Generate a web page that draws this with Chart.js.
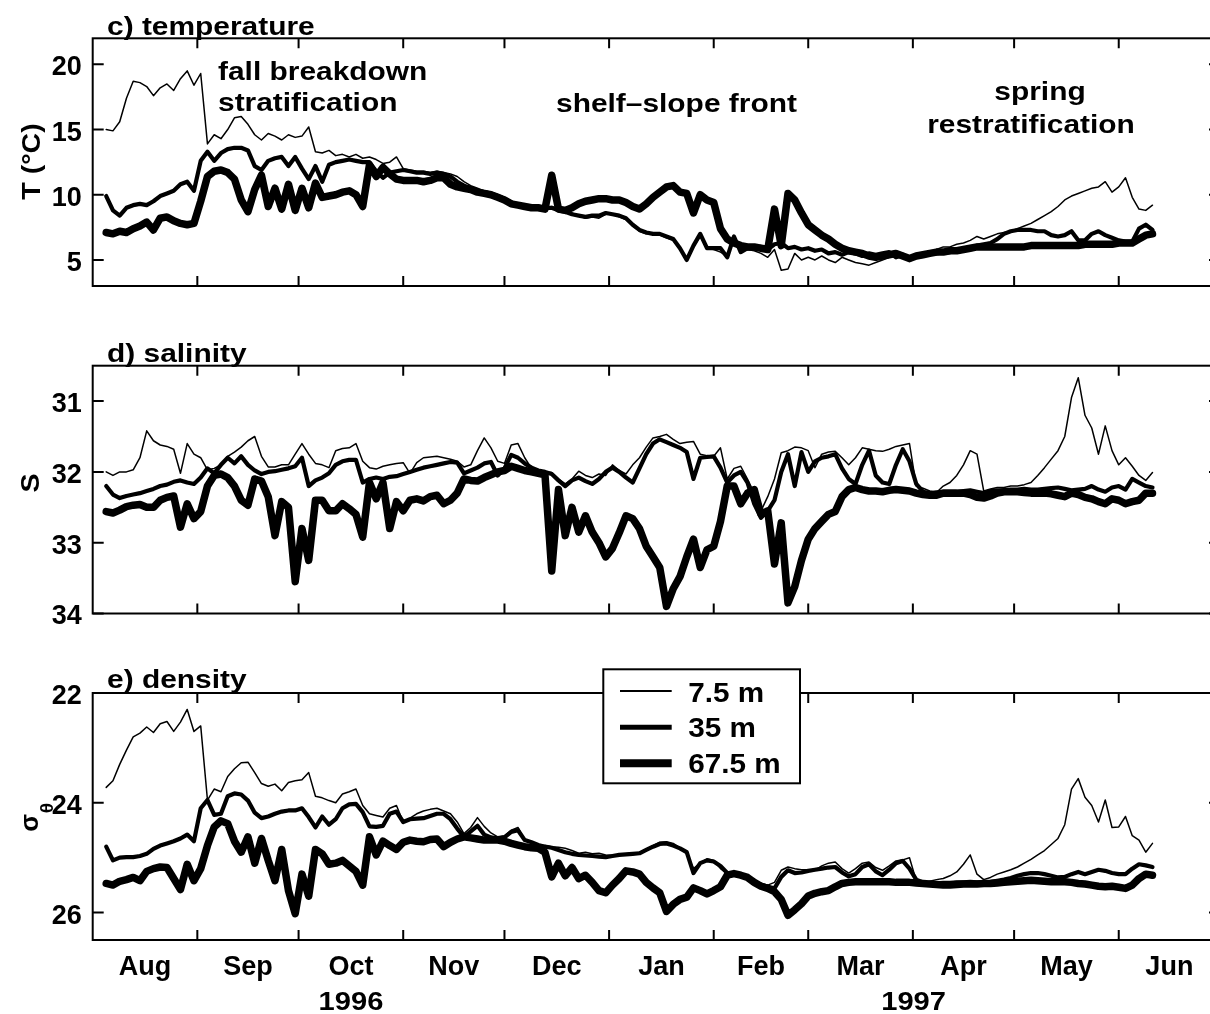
<!DOCTYPE html>
<html>
<head>
<meta charset="utf-8">
<script src="https://cdn.jsdelivr.net/npm/chart.js@4.4.1/dist/chart.umd.min.js"></script>
<style>
  html, body { margin: 0; padding: 0; background: #fff; overflow: hidden; }
  #wrap { position: relative; width: 1210px; height: 1014px; overflow: hidden; }
  canvas { position: absolute; left: 0; }
</style>
</head>
<body>
<div id="wrap">
  <canvas id="cTemp" width="1222" height="330" style="top:0px"></canvas>
  <canvas id="cSal" width="1222" height="320" style="top:330px"></canvas>
  <canvas id="cDen" width="1222" height="364" style="top:650px"></canvas>
</div>
<script>
// days since 1 Aug 1996
const days = [
  4,6,8,10,12,14,16,18,20,22,
  24,26,28,30,32,34,36,38,40,42,
  44,46,48,50,52,54,56,58,60,62,
  64,66,68,70,72,74,76,78,80,82,
  84,86,88,90,92,94,96,98,100,102,
  104,106,108,110,112,114,116,118,120,122,
  124,126,128,130,132,134,136,138,140,142,
  144,146,148,150,152,154,156,158,160,162,
  164,166,168,170,172,174,176,178,180,182,
  184,186,188,190,192,194,196,198,200,202,
  204,206,208,210,212,214,216,218,220,222,
  224,226,228,230,232,234,236,238,240,242,
  244,246,248,250,252,254,256,258,260,262,
  264,266,268,270,272,274,276,278,280,282,
  284,286,288,290,292,294,296,298,300,302,
  304,306,308,310,312,314
];

const monthStarts = [0, 31, 61, 92, 122, 153, 184, 212, 243, 273, 304, 334];
const monthMids = [15.5, 46, 76.5, 107, 137.5, 168.5, 198, 227.5, 258, 288.5, 319];
const monthNames = ['Aug', 'Sep', 'Oct', 'Nov', 'Dec', 'Jan', 'Feb', 'Mar', 'Apr', 'May', 'Jun'];
const depthLabels = ['7.5 m', '35 m', '67.5 m'];

const tempTicks = [5, 10, 15, 20];
const salTicks = [31, 32, 33, 34];
const denTicks = [22, 24, 26];

// temperature (deg C)
const temp7 = [
  15.0, 14.9, 15.6, 17.4, 18.7, 18.6, 18.3, 17.6, 18.2, 18.5,
  18.0, 18.9, 19.5, 18.4, 19.3, 13.9, 14.6, 14.3, 15.0, 15.9,
  16.0, 15.4, 14.6, 14.2, 14.7, 14.5, 14.2, 14.6, 14.4, 14.5,
  15.2, 13.3, 13.2, 13.4, 13.0, 13.1, 12.9, 13.1, 12.8, 12.9,
  12.7, 12.4, 12.5, 12.9, 12.0, 11.9, 11.8, 11.8, 11.7, 11.8,
  11.7, 11.6, 11.4, 11.0, 10.7, 10.5, 10.3, 10.2, 10.0, 9.8,
  9.5, 9.3, 9.2, 9.1, 9.1, 9.0, 9.1, 8.9, 8.8, 8.6,
  8.4, 8.2, 8.3, 8.2, 8.5, 8.5, 8.3, 8.1, 7.6, 7.2,
  7.0, 7.0, 6.9, 6.7, 6.5, 5.8, 5.1, 6.0, 6.8, 5.9,
  5.8, 5.6, 5.3, 6.6, 5.6, 5.8, 5.7, 5.5, 5.2, 5.8,
  4.2, 4.3, 5.5, 5.0, 5.2, 5.0, 5.3, 5.0, 4.8, 5.2,
  5.0, 4.8, 4.7, 4.6, 4.8, 5.0, 5.2, 5.3, 5.2, 5.1,
  5.3, 5.5, 5.6, 5.8, 6.0, 6.0, 6.2, 6.3, 6.5, 6.8,
  6.6, 6.8, 7.0, 7.1, 7.2, 7.4, 7.6, 7.8, 8.1, 8.4,
  8.7, 9.1, 9.6, 9.9, 10.1, 10.3, 10.5, 10.6, 11.0, 10.2,
  10.6, 11.3, 9.8, 8.9, 8.8, 9.2
];
const temp35 = [
  9.9, 8.8, 8.4, 9.0, 9.2, 9.3, 9.2, 9.5, 9.9, 10.1,
  10.3, 10.8, 11.0, 10.3, 12.6, 13.3, 12.6, 13.2, 13.5, 13.6,
  13.6, 13.4, 12.2, 11.9, 12.6, 12.8, 12.9, 12.2, 12.9, 12.0,
  11.2, 12.2, 11.0, 12.3, 12.5, 12.6, 12.7, 12.6, 12.5, 12.5,
  11.8, 11.3, 11.7, 11.8, 11.9, 11.8, 11.7, 11.7, 11.6, 11.7,
  11.6, 11.4, 11.0, 10.7, 10.5, 10.3, 10.2, 10.1, 9.9, 9.7,
  9.4, 9.2, 9.1, 9.0, 9.0, 9.0, 9.0, 8.8, 8.7, 8.5,
  8.4, 8.3, 8.4, 8.4, 8.6, 8.5, 8.4, 8.2, 7.7, 7.3,
  7.1, 7.0, 7.0, 6.8, 6.6, 5.9, 5.0, 6.1, 7.0, 5.9,
  5.9, 5.9, 5.2, 6.8, 5.6, 5.9, 5.9, 6.0, 5.8, 6.2,
  6.3, 5.9, 6.0, 5.8, 5.9, 5.7, 5.8, 5.5, 5.6, 5.4,
  5.6, 5.5, 5.3, 5.5, 5.4, 5.5, 5.6, 5.2, 5.4, 5.0,
  5.3, 5.4, 5.5, 5.5, 5.6, 5.6, 5.7, 5.8, 5.9, 6.1,
  6.2, 6.3, 6.6, 7.0, 7.2, 7.3, 7.3, 7.3, 7.2, 7.2,
  6.9, 6.8, 6.9, 7.2, 6.5, 6.5, 7.0, 7.2, 6.9, 6.7,
  6.5, 6.4, 6.4, 7.4, 7.7, 7.3
];
const temp67 = [
  7.1, 7.0, 7.2, 7.1, 7.4, 7.6, 7.9, 7.3, 8.2, 8.3,
  8.0, 7.8, 7.7, 7.8, 9.5, 11.4, 11.8, 11.9, 11.7, 11.2,
  9.6, 8.7, 10.4, 11.5, 9.1, 10.5, 8.9, 10.8, 8.8, 10.5,
  9.0, 10.9, 9.8, 9.9, 10.0, 10.2, 10.3, 10.0, 9.1, 12.3,
  11.4, 12.1, 11.6, 11.2, 11.1, 11.1, 11.1, 11.0, 11.1, 11.3,
  11.3, 10.8, 10.6, 10.5, 10.4, 10.2, 10.1, 10.0, 9.8, 9.6,
  9.3, 9.2, 9.1, 9.0, 9.0, 8.9, 11.5, 8.9, 8.8, 9.0,
  9.3, 9.5, 9.6, 9.7, 9.7, 9.6, 9.6, 9.4, 9.1, 8.9,
  9.3, 9.8, 10.2, 10.6, 10.7, 10.2, 10.1, 8.6, 10.0, 9.6,
  9.4, 7.4, 6.6, 6.3, 6.1, 6.0, 6.0, 5.9, 5.8, 8.9,
  6.1, 10.1, 9.6, 8.6, 7.7, 7.3, 6.9, 6.6, 6.2, 5.9,
  5.7, 5.6, 5.5, 5.3, 5.2, 5.3, 5.4, 5.5, 5.3, 5.1,
  5.3, 5.4, 5.5, 5.6, 5.6, 5.7, 5.7, 5.8, 5.9, 6.0,
  6.0, 6.0, 6.0, 6.0, 6.0, 6.0, 6.0, 6.1, 6.1, 6.1,
  6.1, 6.1, 6.1, 6.1, 6.1, 6.2, 6.2, 6.2, 6.2, 6.2,
  6.3, 6.3, 6.3, 6.6, 6.9, 7.0
];

// salinity
const sal7 = [
  32.0, 32.05, 32.0, 32.0, 31.97, 31.8, 31.42, 31.56, 31.62, 31.64,
  31.68, 32.02, 31.6, 31.75, 31.8, 31.97, 31.95, 31.9, 31.78, 31.72,
  31.65, 31.56, 31.5, 31.78, 31.93, 31.93, 31.9, 31.9, 31.75, 31.6,
  31.75, 31.88, 31.9, 31.94, 31.7, 31.67, 31.66, 31.6, 31.85, 31.94,
  31.96, 31.92, 31.9, 31.88, 31.87, 32.02, 31.87, 31.8, 31.79, 31.78,
  31.8, 31.82, 31.85, 31.93, 31.9, 31.7, 31.52, 31.66, 31.85, 31.88,
  31.62, 31.6, 31.8, 31.95, 31.99, 32.0, 32.01, 32.1, 32.17, 32.1,
  31.99, 32.05, 32.08, 32.03, 32.05, 31.9, 31.98, 32.03, 31.9, 31.8,
  31.65, 31.52, 31.5, 31.47, 31.54, 31.6, 31.58, 31.57, 31.75, 31.77,
  31.78, 31.66, 32.1, 31.95, 31.92, 32.1, 32.3, 32.55, 32.35, 32.1,
  31.73, 31.7, 31.65, 31.66, 31.7, 31.94, 31.75, 31.72, 31.71, 31.8,
  31.9, 31.8, 31.66, 31.68, 31.7, 31.71, 31.68, 31.64, 31.62, 31.6,
  32.2, 32.23, 32.27, 32.29, 32.2, 32.15, 32.05, 31.9, 31.7, 31.75,
  32.27, 32.24, 32.22, 32.22, 32.2, 32.2, 32.18, 32.15, 32.05, 31.94,
  31.82, 31.7, 31.5, 30.95, 30.67, 31.2, 31.38, 31.75, 31.35, 31.7,
  31.9, 31.8, 31.92, 32.05, 32.12, 32.01
];
const sal35 = [
  32.2, 32.32, 32.37, 32.34, 32.32, 32.3, 32.27, 32.24, 32.2, 32.18,
  32.14, 32.12, 32.15, 32.17, 32.08, 31.95, 32.02, 31.9, 31.8, 31.88,
  31.78, 31.9, 31.98, 32.03, 32.0, 31.99, 31.97, 31.95, 31.92, 31.8,
  32.2, 32.12, 32.08, 32.02, 31.9, 31.85, 31.83, 31.83, 32.15, 32.1,
  32.08, 32.1, 32.07, 32.06, 32.03, 32.0, 31.97, 31.94, 31.92, 31.9,
  31.88, 31.86, 31.87, 32.02, 31.98, 31.94, 31.88, 31.86, 32.05, 31.95,
  31.76, 31.8, 31.88, 31.94, 31.98, 32.0, 32.03, 32.12, 32.2, 32.12,
  32.08, 32.13, 32.17, 32.1, 32.0, 31.94, 32.0, 32.08, 32.15, 31.95,
  31.75, 31.6, 31.54, 31.58, 31.62, 31.66, 31.72, 32.1, 31.8, 31.79,
  31.78, 31.94, 32.15, 32.05, 32.0, 32.15, 32.45, 32.65, 32.55, 32.4,
  32.0, 31.75, 32.2, 31.72, 32.0, 31.85, 31.8, 31.78, 31.75, 31.95,
  32.1, 32.17, 31.9, 31.7, 32.05, 32.15, 32.17, 31.9, 31.68, 31.85,
  32.17, 32.28, 32.3, 32.29, 32.28, 32.28, 32.28, 32.27, 32.26, 32.28,
  32.3, 32.27, 32.26, 32.26, 32.25, 32.25, 32.24, 32.25, 32.25, 32.24,
  32.23, 32.22, 32.24, 32.26, 32.25, 32.24, 32.2, 32.25, 32.28, 32.22,
  32.2, 32.25, 32.1, 32.15, 32.2, 32.22
];
const sal67 = [
  32.56, 32.58, 32.54, 32.49, 32.47, 32.46, 32.5, 32.5, 32.4, 32.36,
  32.34, 32.78, 32.45, 32.66, 32.56, 32.2, 32.05, 32.03, 32.08, 32.2,
  32.4, 32.47, 32.1, 32.13, 32.35, 32.9, 32.42, 32.5, 33.55, 32.8,
  33.25, 32.4, 32.4, 32.55, 32.55, 32.45, 32.52, 32.6, 32.92, 32.15,
  32.38, 32.15, 32.8, 32.42, 32.55, 32.4, 32.38, 32.41, 32.35, 32.33,
  32.45, 32.4, 32.3, 32.1, 32.12, 32.13, 32.08, 32.04, 32.0, 31.98,
  31.92, 31.95, 31.98, 32.0, 32.02, 32.04, 33.4, 32.25, 32.9, 32.5,
  32.85, 32.62, 32.85, 33.0, 33.2, 33.08, 32.86, 32.62, 32.66, 32.8,
  33.05, 33.2, 33.35, 33.9, 33.65, 33.48, 33.2, 32.95, 33.35, 33.1,
  33.05, 32.7, 32.2, 32.2, 32.45, 32.3, 32.25, 32.6, 32.55, 33.3,
  32.72, 33.85, 33.62, 33.25, 32.95, 32.8, 32.7, 32.6, 32.56, 32.35,
  32.25, 32.22, 32.25, 32.27, 32.27, 32.28, 32.26, 32.25, 32.26, 32.27,
  32.3, 32.32, 32.33, 32.33, 32.3, 32.3, 32.3, 32.3, 32.32, 32.36,
  32.37, 32.34, 32.3, 32.28, 32.28, 32.28, 32.29, 32.3, 32.3, 32.3,
  32.31, 32.33, 32.35, 32.3, 32.32, 32.36, 32.38, 32.42, 32.45, 32.38,
  32.4, 32.45, 32.42, 32.4, 32.3, 32.3
];

// density sigma-theta
const den7 = [
  23.72, 23.6, 23.3, 23.04, 22.8, 22.73, 22.62, 22.72, 22.56, 22.52,
  22.7, 22.53, 22.3, 22.7, 22.6, 23.95, 23.75, 23.8, 23.52, 23.38,
  23.27, 23.26, 23.45, 23.65, 23.7, 23.66, 23.78, 23.63, 23.6, 23.58,
  23.45, 23.88, 23.91, 23.96, 24.0, 23.84, 23.8, 23.75, 24.05, 24.2,
  24.23, 24.26, 24.1, 24.05, 24.35, 24.28, 24.2, 24.15, 24.12, 24.1,
  24.15, 24.2, 24.35, 24.56, 24.45, 24.27, 24.43, 24.55, 24.62, 24.6,
  24.5, 24.45, 24.68, 24.72, 24.77, 24.78, 24.8, 24.81, 24.83, 24.87,
  24.92, 24.9, 24.93, 24.92, 24.95, 24.96, 24.94, 24.93, 24.92, 24.9,
  24.85, 24.78, 24.72, 24.71, 24.74, 24.82, 24.93, 25.2, 25.1, 25.02,
  25.05, 25.2, 25.29, 25.28, 25.33, 25.36, 25.42, 25.48, 25.5, 25.45,
  25.23, 25.17, 25.2, 25.22, 25.22, 25.23, 25.15, 25.1, 25.08, 25.2,
  25.28, 25.2, 25.1, 25.08, 25.18, 25.23, 25.15, 25.06, 25.04, 25.0,
  25.42, 25.46, 25.43, 25.4, 25.38, 25.33, 25.26, 25.12, 24.95, 25.3,
  25.4, 25.36, 25.3, 25.26, 25.22, 25.17, 25.1, 25.03, 24.95, 24.87,
  24.76, 24.65, 24.4, 23.75, 23.56, 23.9, 24.05, 24.35, 23.95, 24.45,
  24.44, 24.25, 24.6, 24.68, 24.9, 24.74
];
const den35 = [
  24.8, 25.05, 25.0, 24.99, 24.99, 24.97, 24.93, 24.84, 24.78, 24.74,
  24.7, 24.65, 24.58, 24.7, 24.1, 23.95, 24.22, 24.2, 23.88, 23.83,
  23.85, 23.96, 24.18, 24.28, 24.25, 24.2, 24.16, 24.14, 24.14, 24.1,
  24.26, 24.45, 24.25, 24.4, 24.3, 24.1, 24.03, 24.02, 24.17, 24.43,
  24.44, 24.42, 24.2, 24.16, 24.35, 24.3, 24.29, 24.28, 24.24, 24.2,
  24.2, 24.3, 24.47, 24.62, 24.52, 24.42, 24.58, 24.63, 24.65, 24.63,
  24.53, 24.5, 24.68, 24.72, 24.77, 24.8, 24.82, 24.86, 24.9, 24.93,
  24.95, 24.96, 24.97, 24.98, 24.99, 24.97, 24.95, 24.94, 24.93, 24.92,
  24.86, 24.8, 24.75, 24.74, 24.78, 24.83, 24.9, 25.28, 25.1, 25.05,
  25.07, 25.15, 25.28, 25.3, 25.34, 25.37, 25.43, 25.49, 25.53, 25.56,
  25.35, 25.23, 25.28, 25.27, 25.24, 25.22, 25.2, 25.18, 25.17, 25.27,
  25.34, 25.3, 25.17, 25.12, 25.25, 25.32, 25.22, 25.1, 25.06, 25.2,
  25.4, 25.45, 25.47, 25.47, 25.46, 25.46, 25.45, 25.45, 25.44, 25.45,
  25.45, 25.44, 25.42, 25.4, 25.37, 25.33, 25.3, 25.28, 25.28, 25.3,
  25.33, 25.36, 25.35, 25.3, 25.26, 25.3, 25.26, 25.22, 25.24, 25.28,
  25.3, 25.3, 25.2, 25.12, 25.14, 25.17
];
const den67 = [
  25.47, 25.5, 25.43, 25.4, 25.36, 25.42, 25.25, 25.2, 25.17, 25.18,
  25.38, 25.58, 25.12, 25.42, 25.2, 24.78, 24.44, 24.33, 24.38, 24.7,
  24.9, 24.62, 25.1, 24.65, 25.05, 25.42, 24.85, 25.6, 26.02, 25.3,
  25.7, 24.85, 24.93, 25.12, 25.1, 25.05, 25.15, 25.25, 25.5, 24.62,
  24.95, 24.7, 24.78, 24.85, 24.72, 24.68, 24.7, 24.71, 24.67, 24.66,
  24.8, 24.72, 24.66, 24.62, 24.64, 24.66, 24.68, 24.68, 24.68, 24.7,
  24.74, 24.77, 24.8, 24.82, 24.83, 24.9, 25.35, 25.1, 25.33, 25.18,
  25.38, 25.32, 25.45, 25.6, 25.64, 25.5, 25.38, 25.24, 25.26, 25.3,
  25.45, 25.55, 25.64, 25.98, 25.85, 25.76, 25.72, 25.55, 25.6, 25.66,
  25.6, 25.53, 25.32, 25.29, 25.32, 25.36, 25.45, 25.52, 25.56, 25.62,
  25.76, 26.05, 25.95, 25.84, 25.7, 25.65, 25.62, 25.6, 25.53, 25.47,
  25.45, 25.44, 25.44, 25.44, 25.44, 25.44, 25.44, 25.45, 25.45, 25.45,
  25.46, 25.47, 25.48, 25.49, 25.5, 25.5, 25.49, 25.48, 25.48, 25.48,
  25.47, 25.47, 25.46, 25.45, 25.44, 25.43, 25.42, 25.41, 25.42, 25.43,
  25.44, 25.44, 25.44, 25.45, 25.47, 25.48, 25.5, 25.52, 25.53, 25.52,
  25.54, 25.56, 25.5, 25.38, 25.3, 25.32
];

const FONT = '"Liberation Sans", Arial, Helvetica, sans-serif';
Chart.defaults.font.family = FONT;
Chart.defaults.font.weight = 'bold';
Chart.defaults.font.size = 27;
Chart.defaults.color = '#000';

function pts(vals) {
  return vals.map((v, i) => ({ x: days[i], y: v }));
}

// text with a slight horizontal stretch, like the original lettering
function label(ctx, s, x, y, o = {}) {
  ctx.save();
  ctx.translate(x, y);
  if (o.rot) ctx.rotate(-Math.PI / 2);
  ctx.scale(o.sx || 1.15, 1);
  ctx.font = 'bold ' + (o.size || 26) + 'px ' + FONT;
  ctx.textAlign = o.align || 'left';
  ctx.textBaseline = 'alphabetic';
  ctx.fillStyle = '#000';
  ctx.fillText(s, 0, 0);
  ctx.restore();
}

// box with inward ticks
const framePlugin = {
  id: 'frame',
  afterDraw(chart) {
    const { ctx, chartArea: a } = chart;
    const xs = chart.scales.x, ys = chart.scales.y;
    ctx.save();
    ctx.strokeStyle = '#000';
    ctx.lineWidth = 2;
    ctx.beginPath();
    monthStarts.forEach(d => {
      const px = xs.getPixelForValue(d);
      if (px < a.left + 2 || px > a.right - 2) return;
      ctx.moveTo(px, a.top); ctx.lineTo(px, a.top + 10);
      ctx.moveTo(px, a.bottom); ctx.lineTo(px, a.bottom - 10);
    });
    ys.ticks.forEach(t => {
      const py = ys.getPixelForValue(t.value);
      ctx.moveTo(a.left, py); ctx.lineTo(a.left + 11, py);
      ctx.moveTo(a.right, py); ctx.lineTo(a.right - 11, py);
    });
    ctx.stroke();
    ctx.strokeRect(a.left, a.top, a.right - a.left, a.bottom - a.top);
    ctx.restore();
  }
};

function makePanel(id, cfg) {
  return new Chart(document.getElementById(id), {
    type: 'line',
    data: {
      datasets: [
        { label: depthLabels[0], data: pts(cfg.s1), borderColor: '#000', borderWidth: 1.5 },
        { label: depthLabels[1], data: pts(cfg.s2), borderColor: '#000', borderWidth: 4.2 },
        { label: depthLabels[2], data: pts(cfg.s3), borderColor: '#000', borderWidth: 7.5 }
      ]
    },
    options: {
      responsive: false,
      animation: false,
      layout: { padding: cfg.pad },
      elements: {
        point: { radius: 0 },
        line: { tension: 0, fill: false, borderJoinStyle: 'round', borderCapStyle: 'round' }
      },
      plugins: { legend: { display: false }, tooltip: { enabled: false } },
      scales: {
        x: {
          type: 'linear', min: 0, max: 334,
          grid: { display: false, drawTicks: false },
          border: { display: false },
          ticks: {
            display: cfg.showMonths, padding: 11, autoSkip: false, maxRotation: 0,
            callback: (v, i) => monthNames[i]
          },
          afterBuildTicks: s => { s.ticks = monthMids.map(v => ({ value: v })); },
          afterFit: s => { s.height = cfg.xHeight; }
        },
        y: {
          type: 'linear', min: cfg.min, max: cfg.max, reverse: cfg.reverse,
          grid: { display: false, drawTicks: false },
          border: { display: false },
          ticks: { padding: 11, labelOffset: 3.5 },
          afterBuildTicks: s => { s.ticks = cfg.ticks.map(v => ({ value: v })); },
          afterFit: s => { s.width = 92.7; }
        }
      }
    },
    plugins: [framePlugin, { id: 'extra', afterDraw: c => cfg.draw(c.ctx, c) }]
  });
}

makePanel('cTemp', {
  s1: temp7, s2: temp35, s3: temp67,
  min: 3, max: 22, reverse: false, ticks: tempTicks,
  pad: { top: 38.3, bottom: 44, left: 0, right: 2 },
  showMonths: false, xHeight: 0,
  draw: ctx => {
    label(ctx, 'c) temperature', 107, 34.5);
    label(ctx, 'fall breakdown', 218, 80);
    label(ctx, 'stratification', 218, 111);
    label(ctx, 'shelf\u2013slope front', 556, 112);
    label(ctx, 'spring', 1040, 100, { align: 'center' });
    label(ctx, 'restratification', 1031, 133, { align: 'center' });
    label(ctx, 'T (\u00B0C)', 40, 161.5, { rot: true, align: 'center', sx: 1.1 });
  }
});

makePanel('cSal', {
  s1: sal7, s2: sal35, s3: sal67,
  min: 30.5, max: 34, reverse: true, ticks: salTicks,
  pad: { top: 35.7, bottom: 36.5, left: 0, right: 2 },
  showMonths: false, xHeight: 0,
  draw: ctx => {
    label(ctx, 'd) salinity', 107, 31.5);
    label(ctx, 'S', 38.6, 153, { rot: true, align: 'center', sx: 1.1 });
  }
});

makePanel('cDen', {
  s1: den7, s2: den35, s3: den67,
  min: 22, max: 26.5, reverse: true, ticks: denTicks,
  pad: { top: 43, bottom: 0, left: 0, right: 2 },
  showMonths: true, xHeight: 74,
  draw: ctx => {
    label(ctx, 'e) density', 107, 37.5);
    label(ctx, '\u03C3', 38, 181.7, { rot: true, sx: 1 });
    label(ctx, '\u03B8', 53, 163.3, { rot: true, sx: 1, size: 19 });
    label(ctx, '1996', 351, 360, { align: 'center', sx: 1.12 });
    label(ctx, '1997', 913.6, 360, { align: 'center', sx: 1.12 });
    // legend
    ctx.save();
    ctx.fillStyle = '#fff';
    ctx.fillRect(603.3, 19.3, 196.7, 114);
    ctx.strokeStyle = '#000';
    ctx.lineWidth = 2;
    ctx.strokeRect(603.3, 19.3, 196.7, 114);
    [[41, 2], [77.3, 5], [113.3, 8]].forEach(([y, w]) => {
      ctx.lineWidth = w;
      ctx.beginPath();
      ctx.moveTo(620, y);
      ctx.lineTo(671.7, y);
      ctx.stroke();
    });
    ctx.restore();
    label(ctx, depthLabels[0], 688.3, 51.7, { size: 27, sx: 1.1 });
    label(ctx, depthLabels[1], 688.3, 87.3, { size: 27, sx: 1.1 });
    label(ctx, depthLabels[2], 688.3, 123.3, { size: 27, sx: 1.1 });
  }
});
</script>
</body>
</html>
